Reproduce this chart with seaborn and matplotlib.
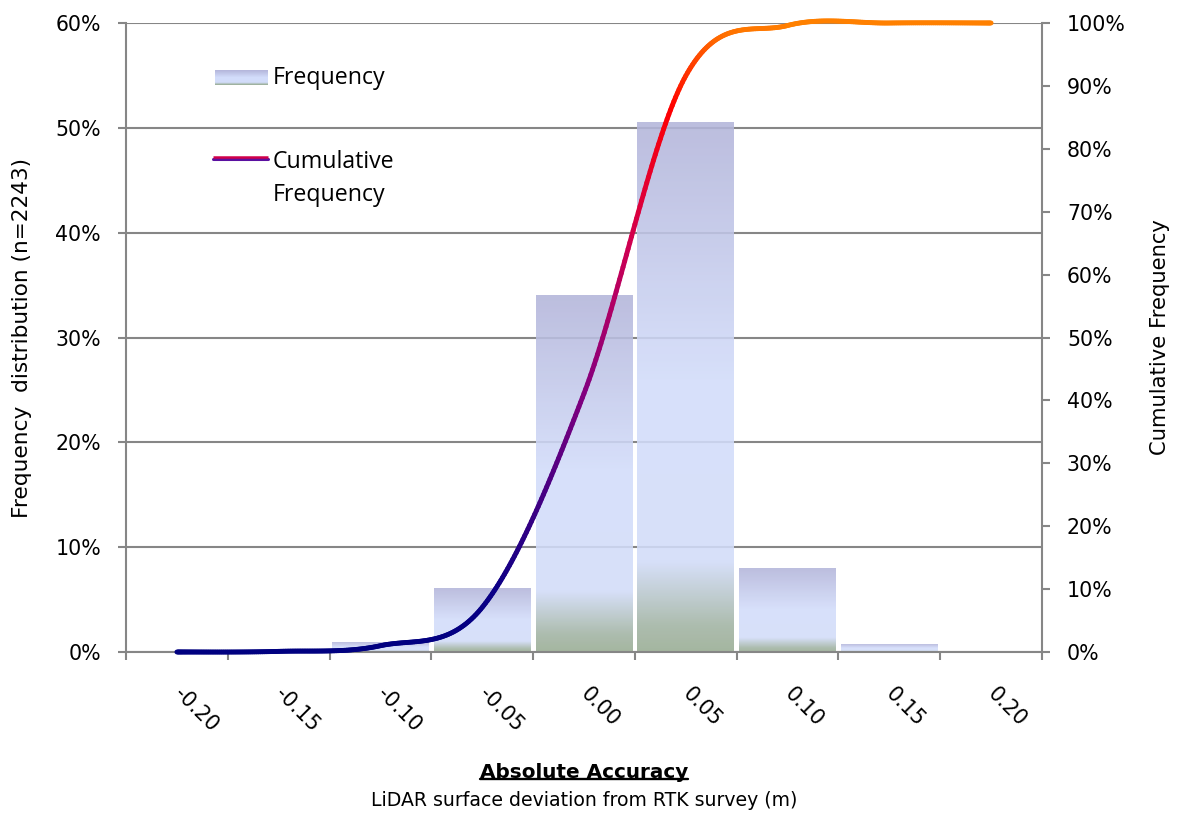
import numpy as np
import pandas as pd
import matplotlib
matplotlib.use("Agg")
import matplotlib.pyplot as plt
import seaborn as sns
from matplotlib.collections import LineCollection
from matplotlib.colors import LinearSegmentedColormap
from matplotlib.lines import Line2D

# ---- data -------------------------------------------------------------
categories = ["-0.20", "-0.15", "-0.10", "-0.05", "0.00", "0.05", "0.10", "0.15", "0.20"]
frequency = [0.0, 0.1, 0.9, 6.1, 34.0, 50.5, 8.0, 0.75, 0.0]          # % of points
cumulative = [0.0, 0.1, 1.0, 7.1, 41.1, 91.6, 99.6, 100.0, 100.0]      # cumulative %
left_ticks = [0, 10, 20, 30, 40, 50, 60]
right_ticks = [0, 10, 20, 30, 40, 50, 60, 70, 80, 90, 100]

# ---- style --------------------------------------------------------------
sns.set_theme(style="white")
plt.rcParams["font.family"] = ["DejaVu Sans"]
plt.rcParams.update({"text.color": "black", "axes.labelcolor": "black",
                     "xtick.color": "black", "ytick.color": "black"})
GRAY = "#868686"
TICK_FS = 14.8

# bar fill: green at the base, pale blue body, lavender top
bar_cmap = LinearSegmentedColormap.from_list(
    "barfill",
    [(0.0, "#98AC93"), (0.05, "#A2B4A4"), (0.17, "#D2DCF9"),
     (0.50, "#D3DDFB"), (1.0, "#B3B5DA")])
# cumulative line: navy -> purple -> red -> orange, by height
line_cmap = LinearSegmentedColormap.from_list(
    "cumline",
    [(0.0, "#000080"), (0.10, "#0C0086"), (0.42, "#85007E"),
     (0.65, "#CF0052"), (0.87, "#FF0000"), (0.95, "#FF4A00"), (1.0, "#FF8000")])


def gradient_image(cmap, n=256, alpha=1.0):
    rgba = cmap(np.linspace(0, 1, n))
    rgba[:, 3] = alpha
    return rgba[:, None, :]


def excel_smooth(xs, ys, n=60):
    """Bezier smoothing through every point (Catmull-Rom control points)."""
    P = np.column_stack([xs, ys]).astype(float)
    E = np.vstack([P[0], P, P[-1]])
    segs = []
    for i in range(len(P) - 1):
        p0, p1, p2, p3 = E[i], E[i + 1], E[i + 2], E[i + 3]
        c1 = p1 + (p2 - p0) / 6.0
        c2 = p2 - (p3 - p1) / 6.0
        t = np.linspace(0, 1, n, endpoint=(i == len(P) - 2))[:, None]
        segs.append((1 - t) ** 3 * p1 + 3 * (1 - t) ** 2 * t * c1
                    + 3 * (1 - t) * t ** 2 * c2 + t ** 3 * p2)
    return np.vstack(segs)


# ---- figure -------------------------------------------------------------
fig = plt.figure(figsize=(11.79, 8.14), dpi=100)
ax = fig.add_axes([126 / 1179, 1 - 652 / 814, 916 / 1179, 629 / 814])

df = pd.DataFrame({"bin": categories, "freq": frequency})
sns.barplot(data=df, x="bin", y="freq", ax=ax, width=0.95,
            color="#D3DDFB", saturation=1, linewidth=0, edgecolor="none",
            errorbar=None, zorder=2)

XLIM = (-0.5, len(categories) - 0.5)
YLIM = (0, 60)

# replace the flat bar fills with vertical gradients
grad = gradient_image(bar_cmap, alpha=0.88)
for patch in list(ax.patches):
    x0, w, h = patch.get_x(), patch.get_width(), patch.get_height()
    patch.set_facecolor("none")
    if h > 0:
        ax.imshow(grad, extent=[x0, x0 + w, 0, h], origin="lower",
                  aspect="auto", zorder=2, interpolation="bilinear")

ax.set_xlim(*XLIM)
ax.set_ylim(*YLIM)
ax.set_aspect("auto")

# left axis
ax.set_yticks(left_ticks)
ax.set_yticklabels([f"{v}%" for v in left_ticks], fontsize=TICK_FS)
ax.yaxis.grid(True, color=GRAY, linewidth=1.5, zorder=0)
ax.set_axisbelow(True)
ax.tick_params(axis="y", left=True, length=6, width=1.5, color=GRAY,
               direction="out", pad=12, labelcolor="black")

# category axis: labels at centres, tick marks on the boundaries
ax.set_xticks(range(len(categories)))
ax.set_xticklabels(categories, fontsize=TICK_FS, rotation=-45,
                   ha="left", va="center", rotation_mode="anchor")
ax.tick_params(axis="x", which="major", bottom=True, length=0, pad=28,
               labelcolor="black")
ax.set_xticks(np.arange(-0.5, len(categories), 1.0), minor=True)
ax.tick_params(axis="x", which="minor", bottom=True, length=6, width=1.5,
               color=GRAY, direction="out")

for side in ("top", "right"):
    ax.spines[side].set_visible(False)
for side in ("left", "bottom"):
    ax.spines[side].set_color(GRAY)
    ax.spines[side].set_linewidth(1.5)

# secondary axis with the cumulative curve
ax2 = ax.twinx()
ax2.set_ylim(0, 100)
ax2.set_yticks(right_ticks)
ax2.set_yticklabels([f"{v}%" for v in right_ticks], fontsize=TICK_FS)
ax2.tick_params(axis="y", right=True, length=6, width=1.5, color=GRAY,
                direction="out", pad=12, labelcolor="black")
for side in ("top", "left", "bottom"):
    ax2.spines[side].set_visible(False)
ax2.spines["right"].set_color(GRAY)
ax2.spines["right"].set_linewidth(1.5)
ax2.grid(False)

curve = excel_smooth(np.arange(len(categories)), cumulative)
pts = curve.reshape(-1, 1, 2)
segments = np.concatenate([pts[:-1], pts[1:]], axis=1)
mid_y = np.clip((curve[:-1, 1] + curve[1:, 1]) / 2.0 / 100.0, 0, 1)
lc = LineCollection(segments, colors=line_cmap(mid_y), linewidths=3.5,
                    capstyle="round", joinstyle="round", zorder=5, clip_on=False)
ax2.add_collection(lc)
ax2.set_xlim(*XLIM)

# axis titles
ax.set_ylabel("Frequency  distribution (n=2243)", fontsize=15.6)
ax.yaxis.set_label_coords((22 - 126) / 916, 0.5)
ax.yaxis.label.set_va("center")
ax2.set_ylabel("Cumulative Frequency", fontsize=15.2)
ax2.yaxis.set_label_coords((1160 - 126) / 916, 0.5)
ax2.yaxis.label.set_va("center")

ax.set_xlabel("Absolute Accuracy", fontsize=14.4, fontweight="bold")
ax.xaxis.set_label_coords(0.5, (652 - 772) / 629)
ax.xaxis.label.set_va("center")
ax.text(0.5, (652 - 801) / 629, "LiDAR surface deviation from RTK survey (m)",
        transform=ax.transAxes, ha="center", va="center", fontsize=13.6)


# ---- legend (frameless, inside the plot) --------------------------------
def ax_to_data(fx, fy):
    return XLIM[0] + fx * (XLIM[1] - XLIM[0]), YLIM[0] + fy * (YLIM[1] - YLIM[0])

lx0, ly0 = ax_to_data((215 - 126) / 916, (652 - 85) / 629)
lx1, ly1 = ax_to_data((268 - 126) / 916, (652 - 70) / 629)
ax.imshow(gradient_image(bar_cmap), extent=[lx0, lx1, ly0, ly1], origin="lower",
          aspect="auto", zorder=6, interpolation="bilinear")
ax.set_xlim(*XLIM)
ax.set_ylim(*YLIM)

LEG_FONT = ["Open Sans", "DejaVu Sans"]
LEG_FS = 16.7
ax.text((273 - 126) / 916, (652 - 78) / 629, "Frequency", transform=ax.transAxes,
        ha="left", va="center", fontsize=LEG_FS, family=LEG_FONT, zorder=7)

sw_x = [(213 - 126) / 916, (268 - 126) / 916]
sw_y = (652 - 160) / 629
ax.add_line(Line2D(sw_x, [sw_y + 1.2 / 629] * 2, transform=ax.transAxes,
                   color="#5A10A0", lw=2.2, solid_capstyle="round", zorder=7))
ax.add_line(Line2D(sw_x, [sw_y + 3.0 / 629] * 2, transform=ax.transAxes,
                   color="#D0004A", lw=1.8, solid_capstyle="butt", zorder=7))
ax.text((273 - 126) / 916, (652 - 162) / 629, "Cumulative", transform=ax.transAxes,
        ha="left", va="center", fontsize=LEG_FS, family=LEG_FONT, zorder=7)
ax.text((273 - 126) / 916, (652 - 195) / 629, "Frequency", transform=ax.transAxes,
        ha="left", va="center", fontsize=LEG_FS, family=LEG_FONT, zorder=7)

# underline the bold axis title
fig.canvas.draw()
bb = ax.xaxis.label.get_window_extent().transformed(fig.transFigure.inverted())
uy = bb.y0 + 3.0 / 814
fig.add_artist(Line2D([bb.x0, bb.x1], [uy, uy], transform=fig.transFigure,
                      color="black", lw=1.7))

fig.savefig("out.png", dpi=100)
